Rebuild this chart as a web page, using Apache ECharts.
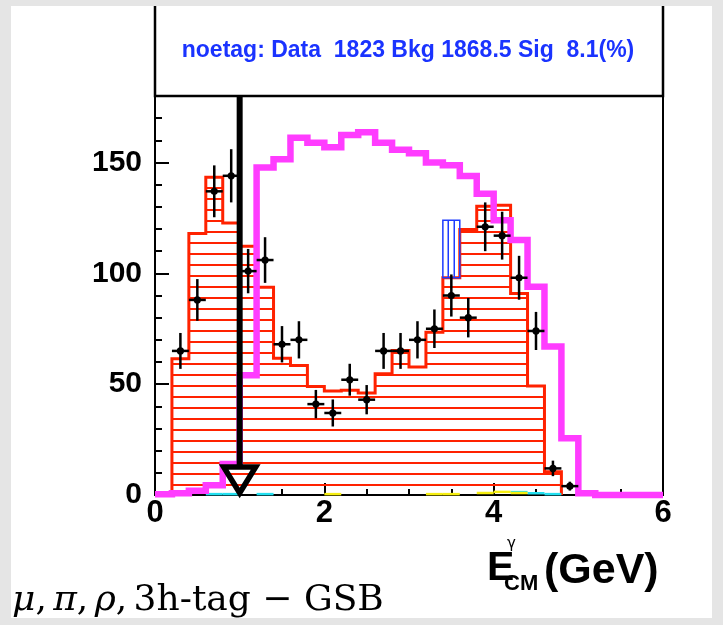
<!DOCTYPE html>
<html>
<head>
<meta charset="utf-8">
<script src="https://cdn.jsdelivr.net/npm/echarts@6/dist/echarts.min.js"></script>
<style>
  html, body { margin: 0; padding: 0; background: #ffffff; }
  #chart { width: 723px; height: 625px; }
</style>
</head>
<body>
<div id="chart"></div>
<script>
// ---- binning: 0.2 GeV bins from 0 to 6 GeV ----
const binStart = 0.0;
const binWidth = 0.2;

// Main background component (red, horizontal hatch), one entry per bin
const bkgRed = [0, 61.5, 118.0, 143.4, 122.7, 112.2, 93.7, 61.7, 58.4, 49.0,
                46.9, 47.2, 46.0, 54.7, 65.2, 57.7, 73.4, 98.0, 119.8, 130.3,
                130.7, 90.9, 49.2, 10.5, 0, 0, 0, 0, 0, 0];
// Second background component (blue, vertical hatch), stacked on the red one
const bkgBlue = [0, 0, 0, 0, 0, 0, 0, 0, 0, 0,
                 0, 0, 0, 0, 0, 0, 0, 26.0, 0, 0,
                 0, 0, 0, 0, 0, 0, 0, 0, 0, 0];
// Small components drawn along the axis
const bkgCyan = [0, 0, 0, 0.4, 0.4, 0, 0.4, 0, 0, 0,
                 0, 0, 0, 0, 0, 0, 0, 0, 0, 0,
                 0, 1.3, 0.8, 0.4, 0, 0, 0, 0, 0, 0];
const bkgYellow = [0, 0, 0, 0, 0, 0, 0, 0, 0, 0,
                   0.4, 0, 0, 0, 0, 0, 0.4, 0.4, 0, 0.9,
                   1.4, 0.9, 0, 0, 0, 0, 0, 0, 0, 0];
// Signal shape (magenta outline)
const sigMagenta = [0.3, 0.8, 1.9, 4.4, 14.0, 54.0, 147.7, 151.5, 161.2, 158.9,
                    156.9, 162.4, 163.6, 158.9, 155.8, 154.2, 150.0, 148.8, 143.9, 135.9,
                    124.0, 115.0, 93.9, 67.0, 25.6, 0.8, 0, 0, 0, 0];

// Data: bin centres, counts and statistical errors
const dataX = [0.3, 0.5, 0.7, 0.9, 1.1, 1.3, 1.5, 1.7, 1.9, 2.1, 2.3, 2.5,
               2.7, 2.9, 3.1, 3.3, 3.5, 3.7, 3.9, 4.1, 4.3, 4.5, 4.7, 4.9];
const dataY = [65, 88, 137, 144, 101, 106, 68, 70, 41, 37, 52, 43,
               65, 65, 70, 75, 90, 80, 121, 117, 98, 74, 12, 4];
const dataErr = [8.1, 9.4, 11.7, 12.0, 10.0, 10.3, 8.2, 8.4, 6.4, 6.1, 7.2, 6.6,
                 8.1, 8.1, 8.4, 8.7, 9.5, 8.9, 11.0, 10.8, 9.9, 8.6, 3.5, 2.0];

// Selection cut position (arrow)
const cutX = [1.0];

// Axis settings
const xTicks = { min: 0, max: 6, major: 2, minorSplit: 4 };
const yTicks = { min: 0, max: 180, major: 50, minor: 10 };

const legendText = 'noetag: Data  1823 Bkg 1868.5 Sig  8.1(%)';

const FONT = 'Liberation Sans';
const RED = '#ff2200';
const BLUE = '#1e3cff';
const MAGENTA = '#ff3cff';

function makeHatch(w, h, color, drawFn) {
  const c = document.createElement('canvas');
  c.width = w; c.height = h;
  const ctx = c.getContext('2d');
  ctx.fillStyle = color;
  drawFn(ctx);
  return c;
}
const redHatch = makeHatch(4, 11, RED, ctx => ctx.fillRect(0, 0, 4, 2));
const blueHatch = makeHatch(6, 8, BLUE, ctx => ctx.fillRect(3.5, 0, 1.5, 8));

function stepPoints(api, vals, from, to) {
  const pts = [];
  for (let i = from; i <= to; i++) {
    const lo = binStart + i * binWidth;
    const hi = lo + binWidth;
    pts.push(api.coord([lo, vals[i]]));
    pts.push(api.coord([hi, vals[i]]));
  }
  return pts;
}

function nonZeroRange(vals) {
  let a = -1, b = -1;
  vals.forEach((v, i) => { if (v > 0) { if (a < 0) a = i; b = i; } });
  return [a, b];
}

const chart = echarts.init(document.getElementById('chart'), null, { renderer: 'canvas' });

const option = {
  animation: false,
  backgroundColor: '#ffffff',
  grid: {
    left: 155, top: 96, width: 508, height: 399,
    show: true, borderColor: '#000', borderWidth: 2, backgroundColor: 'transparent'
  },
  xAxis: {
    type: 'value', min: xTicks.min, max: xTicks.max, interval: xTicks.major,
    axisLine: { onZero: false, lineStyle: { color: '#000', width: 2 } },
    axisTick: { inside: true, length: 12, lineStyle: { color: '#000', width: 2 } },
    minorTick: { show: true, splitNumber: xTicks.minorSplit, length: 6, lineStyle: { color: '#000', width: 2 } },
    splitLine: { show: false },
    axisLabel: { fontFamily: FONT, fontWeight: 'bold', fontSize: 31, color: '#000', margin: 3 }
  },
  yAxis: [
    {
      type: 'value', min: yTicks.min, max: yTicks.max, interval: yTicks.minor,
      axisLine: { show: true, onZero: false, lineStyle: { color: '#000', width: 2 } },
      axisTick: { inside: true, length: 7, lineStyle: { color: '#000', width: 2 } },
      axisLabel: { show: false },
      splitLine: { show: false }
    },
    {
      type: 'value', min: yTicks.min, max: yTicks.max, interval: yTicks.major,
      position: 'left', offset: 0,
      axisLine: { show: false },
      axisTick: { inside: true, length: 14, lineStyle: { color: '#000', width: 2 } },
      axisLabel: {
        fontFamily: FONT, fontWeight: 'bold', fontSize: 30, color: '#000', margin: 13,
        formatter: v => (v % yTicks.major === 0 ? String(v) : '')
      },
      splitLine: { show: false }
    }
  ],
  series: [
    // red hatched background
    {
      type: 'custom', coordinateSystem: 'cartesian2d', silent: true, clip: false, z: 2,
      data: [[0, 0]],
      renderItem: (params, api) => {
        const [a, b] = nonZeroRange(bkgRed);
        const pts = stepPoints(api, bkgRed, a, b);
        const lo = binStart + a * binWidth, hi = binStart + (b + 1) * binWidth;
        const poly = [api.coord([lo, 0])].concat(pts, [api.coord([hi, 0])]);
        return {
          type: 'group',
          children: [
            { type: 'polygon', shape: { points: poly },
              style: { fill: { image: redHatch, repeat: 'repeat' }, stroke: null } },
            { type: 'polyline', shape: { points: poly },
              style: { fill: null, stroke: RED, lineWidth: 3, lineJoin: 'miter' } }
          ]
        };
      }
    },
    // blue hatched component, stacked on red
    {
      type: 'custom', coordinateSystem: 'cartesian2d', silent: true, z: 3,
      data: bkgBlue.map((v, i) => [i, v]).filter(d => d[1] > 0),
      renderItem: (params, api) => {
        const i = api.value(0), v = api.value(1);
        const lo = binStart + i * binWidth, hi = lo + binWidth;
        const p1 = api.coord([lo, bkgRed[i] + v]);
        const p2 = api.coord([hi, bkgRed[i]]);
        const r = { x: p1[0], y: p1[1], width: p2[0] - p1[0], height: p2[1] - p1[1] };
        return {
          type: 'group',
          children: [
            { type: 'rect', shape: r, style: { fill: { image: blueHatch, repeat: 'repeat' } } },
            { type: 'rect', shape: r, style: { fill: null, stroke: BLUE, lineWidth: 1.5 } }
          ]
        };
      }
    },
    // small components near the axis
    {
      type: 'custom', coordinateSystem: 'cartesian2d', silent: true, clip: false, z: 3,
      data: [[0, 0]],
      renderItem: (params, api) => {
        const kids = [];
        [[bkgCyan, '#22e0f0'], [bkgYellow, '#f5ee10']].forEach(([vals, col]) => {
          vals.forEach((v, i) => {
            if (v <= 0) return;
            const lo = binStart + i * binWidth, hi = lo + binWidth;
            const p1 = api.coord([lo, v]), p2 = api.coord([hi, v]);
            kids.push({ type: 'line', shape: { x1: p1[0], y1: p1[1], x2: p2[0], y2: p2[1] },
                        style: { stroke: col, lineWidth: 2.5 } });
          });
        });
        return { type: 'group', children: kids };
      }
    },
    // magenta signal outline
    {
      type: 'custom', coordinateSystem: 'cartesian2d', silent: true, clip: false, z: 4,
      data: [[0, 0]],
      renderItem: (params, api) => ({
        type: 'polyline',
        shape: { points: stepPoints(api, sigMagenta, 0, sigMagenta.length - 1) },
        style: { fill: null, stroke: MAGENTA, lineWidth: 6.5, lineJoin: 'miter' }
      })
    },
    // data points with error bars
    {
      type: 'custom', coordinateSystem: 'cartesian2d', silent: true, clip: false, z: 5,
      data: dataX.map((x, i) => [x, dataY[i], dataErr[i]]),
      renderItem: (params, api) => {
        const x = api.value(0), y = api.value(1), e = api.value(2);
        const c = api.coord([x, y]);
        const t = api.coord([x, y + e]), b = api.coord([x, Math.max(0, y - e)]);
        const l = api.coord([x - binWidth / 2, y]), r = api.coord([x + binWidth / 2, y]);
        return {
          type: 'group',
          children: [
            { type: 'line', shape: { x1: t[0], y1: t[1], x2: b[0], y2: b[1] }, style: { stroke: '#000', lineWidth: 2.5 } },
            { type: 'line', shape: { x1: l[0], y1: l[1], x2: r[0], y2: r[1] }, style: { stroke: '#000', lineWidth: 2.5 } },
            { type: 'circle', shape: { cx: c[0], cy: c[1], r: 3.6 }, style: { fill: '#000' } }
          ]
        };
      }
    },
    // cut arrow
    {
      type: 'custom', coordinateSystem: 'cartesian2d', silent: true, clip: false, z: 6,
      data: cutX.map(x => [x, 0]),
      renderItem: (params, api) => {
        const x = api.value(0);
        const top = api.coord([x, yTicks.max]);
        const tip = api.coord([x, 0]);
        const triTop = tip[1] - 28, triTip = tip[1] - 2, hw = 16;
        return {
          type: 'group',
          children: [
            { type: 'line', shape: { x1: top[0], y1: top[1], x2: tip[0], y2: triTop },
              style: { stroke: '#000', lineWidth: 6 } },
            { type: 'polygon',
              shape: { points: [[tip[0] - hw, triTop], [tip[0] + hw, triTop], [tip[0], triTip]] },
              style: { fill: null, stroke: '#000', lineWidth: 5.5, lineJoin: 'miter' } }
          ]
        };
      }
    }
  ],
  graphic: [
    // statistics box above the plot
    { type: 'rect', shape: { x: 155, y: -4, width: 508, height: 100 },
      style: { fill: '#fff', stroke: '#000', lineWidth: 2.5 }, z: 20 },
    { type: 'text', x: 408, y: 51, z: 21,
      style: { text: legendText, fill: '#1a33ff', font: 'bold 23px "Liberation Sans"',
               align: 'center', verticalAlign: 'middle' } },
    // x-axis title
    { type: 'text', x: 487, y: 589, z: 21,
      style: { text: 'E', fill: '#000', font: 'bold 41px "Liberation Sans"', align: 'left', verticalAlign: 'bottom' } },
    { type: 'text', x: 507, y: 537, z: 21,
      style: { text: 'γ', fill: '#000', font: '15px "DejaVu Sans"', align: 'left', verticalAlign: 'top' } },
    { type: 'text', x: 504, y: 595, z: 21,
      style: { text: 'CM', fill: '#000', font: 'bold 22px "Liberation Sans"', align: 'left', verticalAlign: 'bottom' } },
    { type: 'text', x: 544, y: 593, z: 21,
      style: { text: '(GeV)', fill: '#000', font: 'bold 43px "Liberation Sans"', align: 'left', verticalAlign: 'bottom' } },
    // channel label
    { type: 'text', x: 12, y: 619, z: 21,
      style: {
        text: '{i|μ}{r|,}{s| }{i|π}{r|,}{s| }{i|ρ}{r|,}{s| }{r|3h-tag \u2212 GSB}',
        align: 'left', verticalAlign: 'bottom',
        rich: {
          i: { font: 'italic 36px "DejaVu Serif"', fill: '#000' },
          r: { font: '36px "DejaVu Serif"', fill: '#000' },
          s: { font: '20px "DejaVu Serif"', fill: '#000' }
        }
      } },
    // page margins
    { type: 'rect', shape: { x: 0, y: 0, width: 723, height: 6 }, style: { fill: '#e5e5e5' }, z: 30 },
    { type: 'rect', shape: { x: 0, y: 0, width: 11, height: 625 }, style: { fill: '#e5e5e5' }, z: 30 },
    { type: 'rect', shape: { x: 0, y: 618, width: 723, height: 7 }, style: { fill: '#e5e5e5' }, z: 30 },
    { type: 'rect', shape: { x: 712, y: 0, width: 11, height: 625 }, style: { fill: '#e5e5e5' }, z: 30 }
  ]
};
chart.setOption(option);
</script>
</body>
</html>
